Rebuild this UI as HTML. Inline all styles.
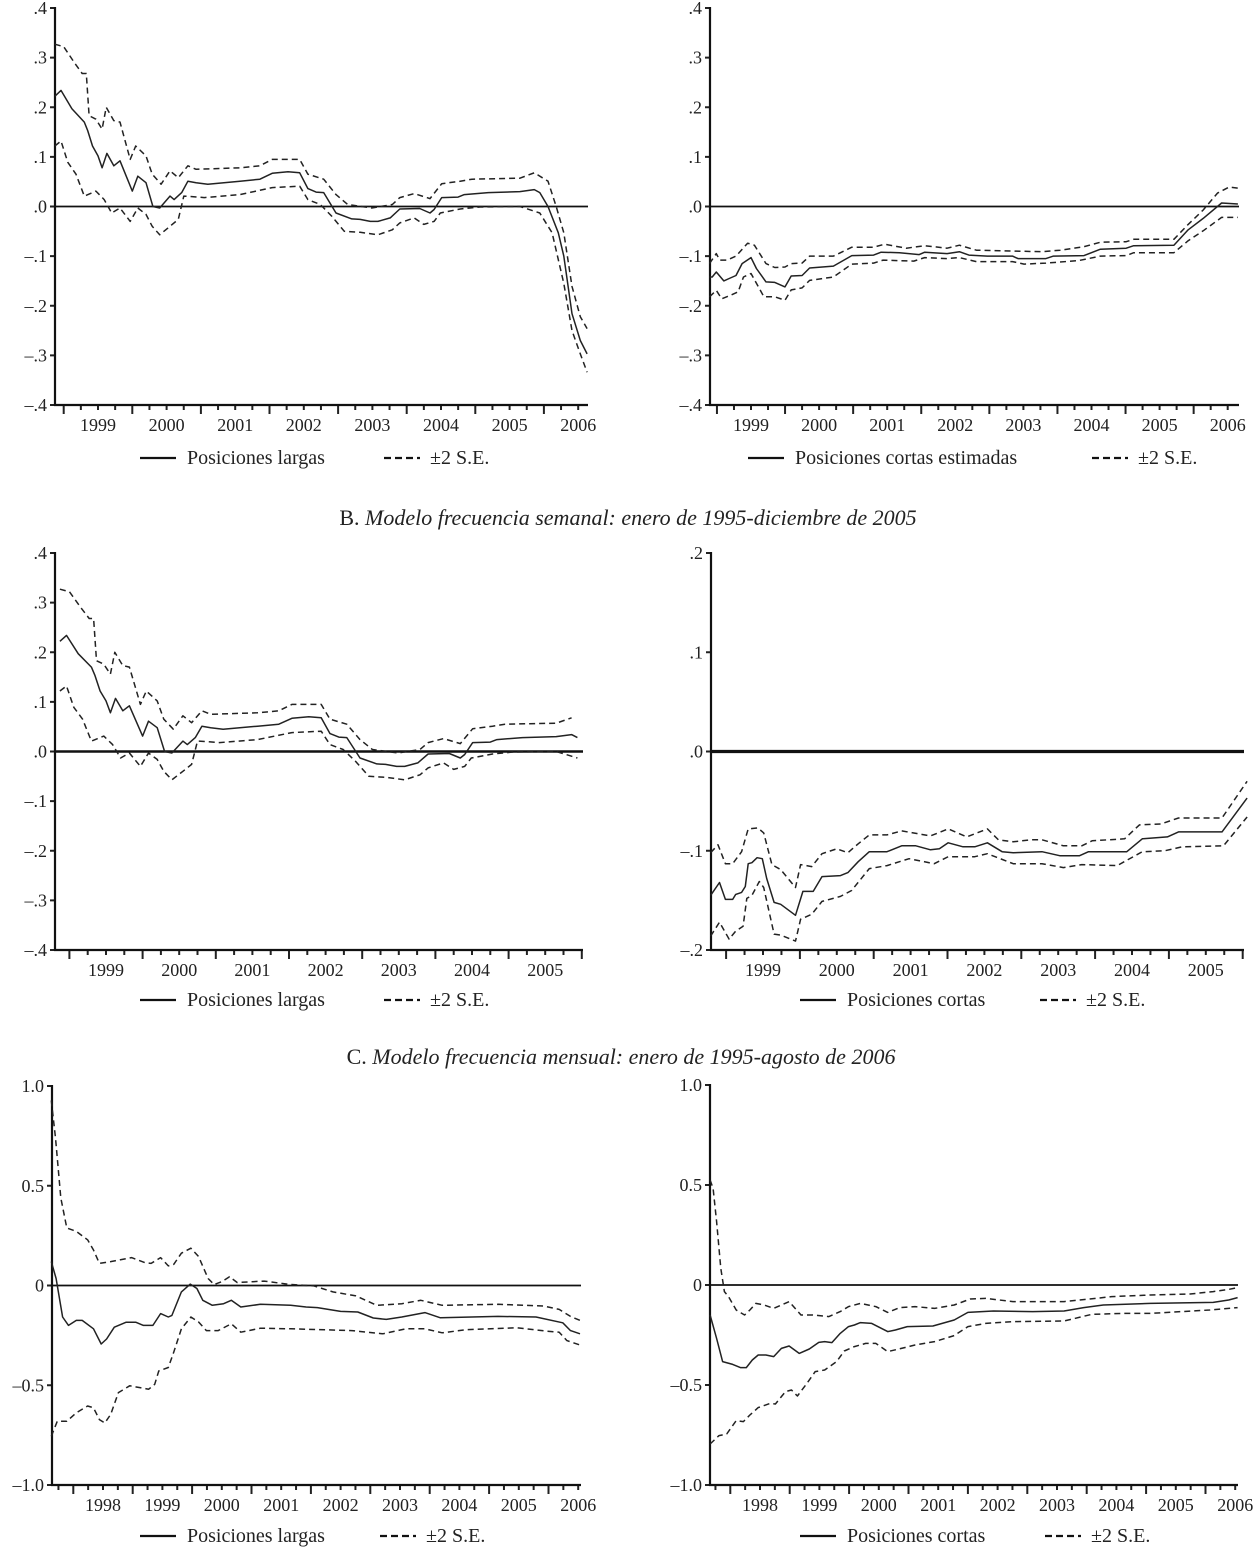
<!DOCTYPE html>
<html><head><meta charset="utf-8"><style>
html,body{margin:0;padding:0;background:#fff;}
svg{display:block;}
text{font-family:"Liberation Serif",serif;fill:#222;}
</style></head><body>
<svg id="fig" width="1256" height="1550" viewBox="0 0 1256 1550" xmlns="http://www.w3.org/2000/svg">
<text x="628" y="525" text-anchor="middle" font-size="22">B. <tspan font-style="italic">Modelo frecuencia semanal: enero de 1995-diciembre de 2005</tspan></text>
<text x="621" y="1064" text-anchor="middle" font-size="22">C. <tspan font-style="italic">Modelo frecuencia mensual: enero de 1995-agosto de 2006</tspan></text>
</svg>
<script>
// ---- Panel A left (Posiciones largas, daily) ----
const aLcT=[1998.87,1998.96,1999.12,1999.30,1999.35,1999.42,1999.50,1999.56,1999.63,1999.73,1999.82,2000.00,2000.08,2000.20,2000.30,2000.40,2000.55,2000.61,2000.72,2000.81,2000.93,2001.10,2001.57,2001.86,2002.04,2002.27,2002.44,2002.56,2002.68,2002.79,2002.97,2003.20,2003.32,2003.47,2003.58,2003.76,2003.90,2004.19,2004.34,2004.40,2004.51,2004.75,2004.84,2005.19,2005.65,2005.86,2005.94,2006.06,2006.21,2006.29,2006.41,2006.53,2006.63];
const aLcV=[0.222,0.234,0.197,0.17,0.153,0.122,0.102,0.078,0.107,0.082,0.092,0.031,0.061,0.048,0.0,-0.003,0.021,0.014,0.028,0.051,0.048,0.045,0.051,0.055,0.067,0.07,0.068,0.036,0.029,0.028,-0.013,-0.025,-0.026,-0.03,-0.03,-0.023,-0.005,-0.004,-0.013,-0.006,0.018,0.019,0.024,0.028,0.03,0.034,0.028,0.0,-0.053,-0.1,-0.216,-0.27,-0.297];
const aLuT=[1998.87,1999.00,1999.15,1999.27,1999.33,1999.37,1999.47,1999.56,1999.62,1999.73,1999.82,1999.97,2000.05,2000.20,2000.29,2000.42,2000.55,2000.67,2000.81,2000.93,2001.57,2001.86,2002.04,2002.44,2002.56,2002.79,2002.97,2003.14,2003.49,2003.79,2003.90,2004.11,2004.34,2004.51,2004.78,2004.95,2005.65,2005.86,2006.06,2006.18,2006.29,2006.41,2006.53,2006.63];
const aLuV=[0.327,0.322,0.291,0.268,0.268,0.183,0.176,0.156,0.2,0.173,0.17,0.095,0.122,0.102,0.065,0.045,0.072,0.058,0.082,0.075,0.078,0.082,0.095,0.095,0.065,0.055,0.024,0.004,-0.003,0.004,0.018,0.026,0.016,0.046,0.051,0.055,0.057,0.068,0.051,0.0,-0.053,-0.161,-0.222,-0.246];
const aLlT=[1998.87,1998.96,1999.06,1999.18,1999.30,1999.47,1999.59,1999.70,1999.82,1999.97,2000.08,2000.20,2000.29,2000.40,2000.55,2000.67,2000.75,2000.87,2001.05,2001.57,2002.04,2002.44,2002.56,2002.74,2002.91,2003.09,2003.32,2003.58,2003.79,2003.90,2004.11,2004.25,2004.40,2004.49,2004.78,2005.07,2005.65,2005.94,2006.12,2006.29,2006.41,2006.53,2006.63];
const aLlV=[0.122,0.132,0.089,0.065,0.021,0.031,0.014,-0.013,-0.003,-0.03,-0.003,-0.016,-0.04,-0.057,-0.04,-0.026,0.021,0.02,0.018,0.024,0.038,0.041,0.014,0.004,-0.02,-0.05,-0.052,-0.057,-0.047,-0.033,-0.023,-0.036,-0.03,-0.013,-0.005,-0.001,0.0,-0.013,-0.053,-0.155,-0.25,-0.297,-0.334];
// ---- Panel A right (Posiciones cortas estimadas) ----
const aRcT=[1998.89,1998.93,1998.99,1999.10,1999.18,1999.28,1999.37,1999.50,1999.58,1999.72,1999.85,2000.00,2000.09,2000.25,2000.36,2000.71,2000.98,2001.30,2001.41,2001.68,2001.97,2002.05,2002.38,2002.56,2002.70,2002.97,2003.34,2003.42,2003.83,2003.94,2004.39,2004.63,2005.01,2005.12,2005.71,2005.92,2006.14,2006.41,2006.65];
const aRcV=[-0.142,-0.142,-0.132,-0.15,-0.145,-0.139,-0.115,-0.103,-0.125,-0.152,-0.153,-0.162,-0.14,-0.139,-0.124,-0.12,-0.099,-0.098,-0.092,-0.093,-0.097,-0.092,-0.095,-0.091,-0.098,-0.1,-0.1,-0.105,-0.105,-0.1,-0.099,-0.086,-0.084,-0.079,-0.078,-0.047,-0.024,0.007,0.005];
const aRuT=[1998.89,1998.99,1999.04,1999.15,1999.28,1999.45,1999.55,1999.72,1999.85,2000.00,2000.09,2000.25,2000.36,2000.71,2000.98,2001.30,2001.46,2001.78,2002.05,2002.38,2002.56,2002.81,2003.77,2004.04,2004.39,2004.63,2005.01,2005.12,2005.71,2005.92,2006.14,2006.35,2006.52,2006.65];
const aRuV=[-0.115,-0.095,-0.108,-0.108,-0.1,-0.074,-0.078,-0.115,-0.123,-0.122,-0.115,-0.114,-0.1,-0.1,-0.082,-0.082,-0.076,-0.084,-0.079,-0.084,-0.078,-0.088,-0.091,-0.088,-0.081,-0.072,-0.071,-0.066,-0.066,-0.036,-0.007,0.027,0.039,0.037];
const aRlT=[1998.89,1998.99,1999.07,1999.20,1999.31,1999.39,1999.50,1999.69,1999.85,2000.00,2000.09,2000.25,2000.36,2000.71,2000.98,2001.30,2001.44,2001.89,2002.05,2002.38,2002.56,2002.81,2003.34,2003.51,2003.83,2004.31,2004.63,2005.01,2005.12,2005.71,2005.92,2006.14,2006.41,2006.65];
const aRlV=[-0.182,-0.169,-0.186,-0.179,-0.172,-0.142,-0.135,-0.182,-0.182,-0.189,-0.168,-0.164,-0.149,-0.142,-0.116,-0.114,-0.108,-0.11,-0.103,-0.105,-0.103,-0.111,-0.111,-0.116,-0.114,-0.109,-0.1,-0.099,-0.093,-0.093,-0.069,-0.049,-0.022,-0.022];
// ---- Panel B right (Posiciones cortas, weekly) ----
const bRcT=[1998.79,1998.91,1998.99,1999.09,1999.13,1999.21,1999.26,1999.30,1999.35,1999.42,1999.49,1999.55,1999.65,1999.74,1999.94,2000.04,2000.18,2000.30,2000.55,2000.65,2000.79,2000.94,2001.18,2001.38,2001.57,2001.77,2001.89,2002.01,2002.21,2002.37,2002.54,2002.74,2002.89,2003.28,2003.52,2003.79,2003.91,2004.43,2004.64,2004.98,2005.13,2005.72,2006.06];
const bRcV=[-0.145,-0.132,-0.149,-0.149,-0.144,-0.142,-0.136,-0.113,-0.112,-0.107,-0.108,-0.128,-0.152,-0.154,-0.165,-0.141,-0.141,-0.126,-0.125,-0.122,-0.111,-0.101,-0.101,-0.095,-0.095,-0.099,-0.098,-0.092,-0.096,-0.096,-0.092,-0.101,-0.102,-0.101,-0.105,-0.105,-0.101,-0.101,-0.088,-0.086,-0.081,-0.081,-0.047];
const bRuT=[1998.79,1998.89,1998.99,1999.09,1999.21,1999.30,1999.43,1999.51,1999.62,1999.74,1999.94,2000.01,2000.16,2000.30,2000.50,2000.65,2000.79,2000.94,2001.18,2001.38,2001.77,2002.01,2002.26,2002.54,2002.69,2002.89,2003.13,2003.28,2003.57,2003.82,2003.96,2004.40,2004.60,2004.89,2005.13,2005.72,2006.06];
const bRuV=[-0.102,-0.094,-0.113,-0.113,-0.101,-0.078,-0.077,-0.082,-0.114,-0.119,-0.137,-0.114,-0.116,-0.103,-0.098,-0.102,-0.093,-0.084,-0.084,-0.08,-0.085,-0.078,-0.086,-0.078,-0.089,-0.091,-0.089,-0.089,-0.095,-0.095,-0.09,-0.088,-0.074,-0.073,-0.067,-0.067,-0.03];
const bRlT=[1998.79,1998.91,1999.04,1999.13,1999.23,1999.28,1999.35,1999.45,1999.51,1999.65,1999.74,1999.94,2000.01,2000.16,2000.30,2000.55,2000.70,2000.94,2001.18,2001.48,2001.82,2002.01,2002.37,2002.54,2002.89,2003.28,2003.57,2003.82,2004.30,2004.64,2004.94,2005.18,2005.74,2006.06];
const bRlV=[-0.186,-0.172,-0.189,-0.181,-0.176,-0.148,-0.145,-0.131,-0.137,-0.184,-0.185,-0.191,-0.169,-0.164,-0.151,-0.146,-0.14,-0.118,-0.115,-0.108,-0.113,-0.106,-0.106,-0.103,-0.113,-0.113,-0.117,-0.114,-0.115,-0.101,-0.1,-0.096,-0.095,-0.066];
// ---- Panel C left (Posiciones largas, monthly) ----
const cLcT=[1997.63,1997.71,1997.82,1997.92,1998.05,1998.15,1998.34,1998.47,1998.56,1998.69,1998.89,1999.05,1999.18,1999.34,1999.47,1999.60,1999.66,1999.82,1999.97,2000.08,2000.18,2000.34,2000.53,2000.66,2000.82,2001.15,2001.66,2001.92,2002.11,2002.50,2002.79,2003.05,2003.27,2003.53,2003.92,2004.18,2005.15,2005.79,2006.24,2006.37,2006.53];
const cLcV=[0.12,0.035,-0.158,-0.2,-0.175,-0.175,-0.217,-0.293,-0.268,-0.209,-0.184,-0.184,-0.2,-0.2,-0.141,-0.158,-0.15,-0.032,0.007,-0.015,-0.074,-0.099,-0.091,-0.074,-0.108,-0.094,-0.099,-0.108,-0.111,-0.13,-0.133,-0.163,-0.17,-0.158,-0.136,-0.162,-0.155,-0.158,-0.187,-0.226,-0.242];
const cLuT=[1997.63,1997.70,1997.79,1997.89,1998.05,1998.24,1998.34,1998.44,1998.63,1998.98,1999.21,1999.31,1999.47,1999.60,1999.69,1999.82,1999.98,2000.11,2000.27,2000.37,2000.50,2000.63,2000.76,2001.21,2001.66,2002.05,2002.37,2002.76,2003.11,2003.53,2003.85,2004.21,2005.15,2005.92,2006.18,2006.37,2006.53];
const cLuV=[0.928,0.74,0.439,0.288,0.271,0.229,0.178,0.111,0.12,0.14,0.114,0.111,0.14,0.098,0.106,0.162,0.187,0.145,0.035,0.005,0.019,0.044,0.015,0.022,0.005,-0.002,-0.032,-0.052,-0.099,-0.091,-0.074,-0.099,-0.094,-0.103,-0.12,-0.155,-0.175];
const cLlT=[1997.63,1997.73,1997.89,1998.05,1998.24,1998.34,1998.44,1998.53,1998.63,1998.76,1998.95,1999.27,1999.37,1999.44,1999.60,1999.69,1999.82,1999.98,2000.11,2000.24,2000.44,2000.66,2000.82,2001.15,2001.66,2002.69,2003.21,2003.60,2003.92,2004.21,2004.63,2005.47,2005.98,2006.18,2006.31,2006.53];
const cLlV=[-0.756,-0.68,-0.68,-0.638,-0.604,-0.613,-0.672,-0.689,-0.646,-0.537,-0.503,-0.52,-0.495,-0.428,-0.411,-0.335,-0.217,-0.158,-0.183,-0.226,-0.226,-0.192,-0.234,-0.214,-0.217,-0.226,-0.242,-0.217,-0.217,-0.237,-0.221,-0.212,-0.229,-0.234,-0.276,-0.298];
// ---- Panel C right (Posiciones cortas, monthly) ----
const cRcT=[1997.66,1997.77,1997.87,1998.04,1998.17,1998.27,1998.37,1998.47,1998.60,1998.73,1998.86,1998.99,1999.16,1999.33,1999.49,1999.59,1999.71,1999.85,1999.99,2000.09,2000.19,2000.38,2000.65,2000.78,2000.98,2001.41,2001.77,2002.00,2002.43,2003.09,2003.62,2003.95,2004.28,2005.07,2006.13,2006.39,2006.54];
const cRcV=[-0.15,-0.267,-0.383,-0.397,-0.413,-0.413,-0.375,-0.35,-0.35,-0.358,-0.317,-0.305,-0.342,-0.32,-0.287,-0.283,-0.288,-0.242,-0.208,-0.2,-0.188,-0.192,-0.233,-0.225,-0.208,-0.205,-0.175,-0.137,-0.13,-0.133,-0.13,-0.113,-0.1,-0.092,-0.087,-0.075,-0.063];
const cRuT=[1997.66,1997.71,1997.77,1997.84,1997.90,1997.97,1998.10,1998.24,1998.33,1998.43,1998.57,1998.73,1998.86,1998.99,1999.19,1999.39,1999.66,1999.85,1999.99,2000.19,2000.45,2000.65,2000.85,2001.11,2001.44,2001.77,2002.04,2002.30,2002.76,2003.62,2004.15,2004.42,2005.07,2005.74,2006.13,2006.39,2006.54];
const cRuV=[0.525,0.483,0.317,0.083,-0.033,-0.058,-0.125,-0.15,-0.125,-0.092,-0.1,-0.117,-0.1,-0.083,-0.15,-0.15,-0.158,-0.133,-0.108,-0.092,-0.108,-0.137,-0.113,-0.108,-0.117,-0.1,-0.07,-0.067,-0.083,-0.083,-0.067,-0.058,-0.05,-0.045,-0.033,-0.022,-0.013];
const cRlT=[1997.66,1997.81,1997.94,1998.10,1998.22,1998.33,1998.47,1998.67,1998.76,1998.93,1999.03,1999.13,1999.29,1999.43,1999.59,1999.79,1999.92,2000.09,2000.28,2000.45,2000.65,2000.88,2001.11,2001.44,2001.77,2002.00,2002.30,2002.76,2003.62,2004.08,2004.61,2005.07,2006.07,2006.54];
const cRlV=[-0.795,-0.753,-0.745,-0.678,-0.683,-0.65,-0.613,-0.592,-0.595,-0.533,-0.525,-0.555,-0.492,-0.433,-0.425,-0.383,-0.33,-0.308,-0.292,-0.292,-0.333,-0.317,-0.3,-0.283,-0.253,-0.208,-0.192,-0.183,-0.18,-0.147,-0.142,-0.142,-0.125,-0.113];
// ---- Axis tick labels ----
const yTicksA=[0.4,0.3,0.2,0.1,0,-0.1,-0.2,-0.3,-0.4];
const yLabelsA=[".4",".3",".2",".1",".0","\u2013.1","\u2013.2","\u2013.3","\u2013.4"];
const yTicksBR=[0.2,0.1,0,-0.1,-0.2];
const yLabelsBR=[".2",".1",".0","\u2013.1","\u2013.2"];
const yTicksC=[1,0.5,0,-0.5,-1];
const yLabelsC=["1.0","0.5","0","\u20130.5","\u20131.0"];
const yearsA=[1999,2000,2001,2002,2003,2004,2005,2006];
const yearsB=[1999,2000,2001,2002,2003,2004,2005];
const yearsC=[1998,1999,2000,2001,2002,2003,2004,2005,2006];

const NS="http://www.w3.org/2000/svg";
const svg=document.getElementById('fig');
function mk(tag,attrs,parent){const e=document.createElementNS(NS,tag);for(const k in attrs)e.setAttribute(k,attrs[k]);(parent||svg).appendChild(e);return e;}

function panel(c){
  const g=mk('g',{});
  
  
  const x=t=>c.lx+(t-(c.y0+0.5))*c.step;
  const y=v=>c.yTop+(c.vTop-v)/(c.vTop-c.vBot)*(c.yBot-c.yTop);
  const tStart=c.y0+0.5-(c.lx-c.ax)/c.step;
  const tEnd=c.y0+0.5+(c.xEnd-c.lx)/c.step;
  for(let q=Math.ceil(tStart*4)/4;q<=tEnd+1e-6;q+=0.25){
    const xx=x(q); if(xx<c.ax+4) continue;
    const yr=Math.abs(q-Math.round(q))<1e-6;
    const tk=mk('line',{x1:xx,x2:xx,y1:c.yBot,y2:c.yBot+(yr?9:5),stroke:'#222','stroke-width':2},g);
    
    
  }
  c.years.forEach(yv=>{
    const t=mk('text',{x:x(yv+0.5),y:c.yBot+26,'text-anchor':'middle','font-size':18},g);
    
    
    t.textContent=yv;
  });
  c.yt.forEach((v,i)=>{
    const tk=mk('line',{x1:c.ax-5,x2:c.ax,y1:y(v),y2:y(v),stroke:'#222','stroke-width':2},g);
    
    
    const t=mk('text',{x:c.ax-8,y:y(v)+6,'text-anchor':'end','font-size':18},g);
    
    
    t.textContent=c.yl[i];
  });
  const za=mk('line',{x1:c.ax,x2:c.xEnd,y1:y(0),y2:y(0),stroke:'#111','stroke-width':c.zw||1.8},g);
  
  
  const ya=mk('line',{x1:c.ax,x2:c.ax,y1:c.yTop-1,y2:c.yBot+1,stroke:'#111','stroke-width':2.2},g);
  
  
  const xa=mk('line',{x1:c.ax-1,x2:c.xEnd,y1:c.yBot,y2:c.yBot,stroke:'#111','stroke-width':2.2},g);
  
  
  c.series.forEach(s=>{
    let d='';
    s.t.forEach((t,i)=>{ if(t<=tEnd+(c.tol||0.01)) d+=(d?'L':'M')+x(t).toFixed(1)+','+y(s.v[i]).toFixed(1); });
    const p=mk('path',{d:d,fill:'none',stroke:'#222','stroke-width':1.5,'stroke-linejoin':'round'},g);
    if(s.dash) p.setAttribute('stroke-dasharray','6,4');
    
    
  });
  const ly=c.legY;
  const l1=mk('line',{x1:c.leg[0],x2:c.leg[0]+36,y1:ly-6,y2:ly-6,stroke:'#111','stroke-width':2.2},g);
  
  
  const t1=mk('text',{x:c.leg[0]+47,y:ly,'font-size':20},g);
  
  
  t1.textContent=c.legText;
  const l2=mk('line',{x1:c.leg[1],x2:c.leg[1]+36,y1:ly-6,y2:ly-6,stroke:'#111','stroke-width':2.2,'stroke-dasharray':'7,4'},g);
  
  
  const t2=mk('text',{x:c.leg[1]+46,y:ly,'font-size':20},g);
  
  
  t2.textContent='\u00B12 S.E.';
}

panel({name:'panel-a-left',ax:55,xEnd:588,lx:98,y0:1999,step:68.6,yTop:8,yBot:405,vTop:0.4,vBot:-0.4,yt:yTicksA,yl:yLabelsA,years:yearsA,
  series:[{name:'central-line',t:aLcT,v:aLcV},{name:'upper-band',t:aLuT,v:aLuV,dash:1},{name:'lower-band',t:aLlT,v:aLlV,dash:1}],
  legY:464,leg:[140,384],legText:'Posiciones largas'});
panel({name:'panel-a-right',ax:710,xEnd:1239,lx:751,y0:1999,step:68.1,yTop:8,yBot:405,vTop:0.4,vBot:-0.4,yt:yTicksA,yl:yLabelsA,years:yearsA,
  series:[{name:'central-line',t:aRcT,v:aRcV},{name:'upper-band',t:aRuT,v:aRuV,dash:1},{name:'lower-band',t:aRlT,v:aRlV,dash:1}],
  legY:464,leg:[748,1092],legText:'Posiciones cortas estimadas'});
panel({name:'panel-b-left',ax:55,xEnd:583,lx:106,y0:1999,step:73.2,yTop:553,yBot:950,vTop:0.4,vBot:-0.4,yt:yTicksA,yl:yLabelsA,years:yearsB,zw:2.6,
  series:[{name:'central-line',t:aLcT,v:aLcV},{name:'upper-band',t:aLuT,v:aLuV,dash:1},{name:'lower-band',t:aLlT,v:aLlV,dash:1}],
  legY:1006,leg:[140,384],legText:'Posiciones largas'});
panel({name:'panel-b-right',ax:711,xEnd:1244,lx:763,y0:1999,step:73.8,yTop:553,yBot:950,vTop:0.2,vBot:-0.2,yt:yTicksBR,yl:yLabelsBR,years:yearsB,zw:3.2,tol:0.15,
  series:[{name:'central-line',t:bRcT,v:bRcV},{name:'upper-band',t:bRuT,v:bRuV,dash:1},{name:'lower-band',t:bRlT,v:bRlV,dash:1}],
  legY:1006,leg:[800,1040],legText:'Posiciones cortas'});
panel({name:'panel-c-left',ax:52,xEnd:581,lx:103,y0:1998,step:59.4,yTop:1086,yBot:1485,vTop:1,vBot:-1,yt:yTicksC,yl:yLabelsC,years:yearsC,
  series:[{name:'central-line',t:cLcT,v:cLcV},{name:'upper-band',t:cLuT,v:cLuV,dash:1},{name:'lower-band',t:cLlT,v:cLlV,dash:1}],
  legY:1542,leg:[140,380],legText:'Posiciones largas'});
panel({name:'panel-c-right',ax:710,xEnd:1238,lx:760,y0:1998,step:59.4,yTop:1085,yBot:1485,vTop:1,vBot:-1,yt:yTicksC,yl:yLabelsC,years:yearsC,
  series:[{name:'central-line',t:cRcT,v:cRcV},{name:'upper-band',t:cRuT,v:cRuV,dash:1},{name:'lower-band',t:cRlT,v:cRlV,dash:1}],
  legY:1542,leg:[800,1045],legText:'Posiciones cortas'});
</script>
</body></html>
